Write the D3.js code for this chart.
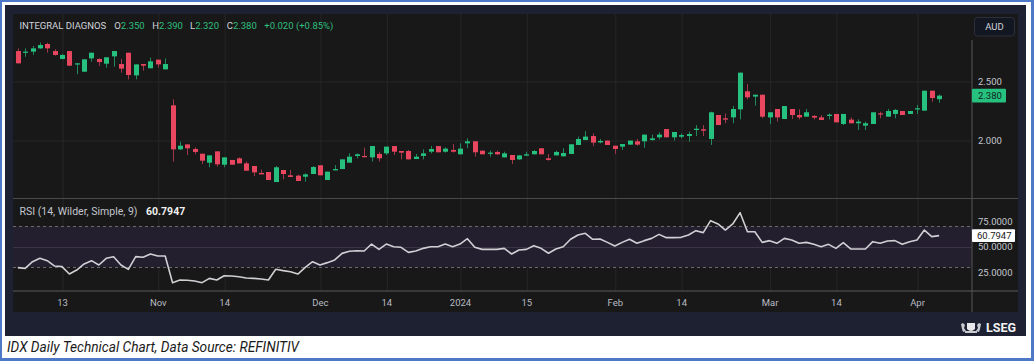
<!DOCTYPE html>
<html><head><meta charset="utf-8">
<script src="https://cdn.jsdelivr.net/npm/d3@7"></script>
<style>
html,body{margin:0;padding:0;background:#fff;}
svg{display:block;}
text{font-family:Roboto,"Open Sans",sans-serif;}
</style></head><body>
<svg id="c" width="1034" height="361"></svg>
<script>
// ---- data, one entry per trading day ----
const openP=[2.758,2.747,2.753,2.781,2.818,2.758,2.691,2.758,2.650,2.583,2.696,2.691,2.651,2.713,2.648,2.744,2.552,2.648,2.612,2.685,2.603,2.298,1.925,1.967,1.928,1.888,1.812,1.908,1.795,1.835,1.849,1.806,1.784,1.725,1.733,1.648,1.750,1.705,1.702,1.693,1.716,1.790,1.665,1.747,1.758,1.812,1.869,1.869,1.857,1.886,1.891,1.953,1.911,1.911,1.843,1.869,1.905,1.953,1.905,1.920,1.883,1.976,1.993,1.914,1.888,1.903,1.857,1.877,1.840,1.872,1.883,1.934,1.849,1.874,1.866,1.886,1.962,2.004,2.038,1.984,1.999,1.956,1.948,1.965,1.993,1.993,2.004,2.027,2.097,2.027,2.032,2.038,2.089,2.095,2.013,2.216,2.188,2.196,2.264,2.417,2.372,2.388,2.196,2.267,2.182,2.267,2.216,2.202,2.208,2.196,2.208,2.225,2.140,2.177,2.146,2.126,2.140,2.230,2.202,2.225,2.250,2.225,2.264,2.253,2.422,2.350];
const highP=[2.781,2.781,2.801,2.829,2.829,2.773,2.733,2.758,2.654,2.688,2.744,2.696,2.705,2.758,2.691,2.744,2.645,2.648,2.702,2.685,2.696,2.349,1.990,1.967,1.942,1.888,1.874,1.908,1.857,1.835,1.857,1.821,1.784,1.753,1.733,1.784,1.750,1.750,1.710,1.722,1.784,1.790,1.736,1.792,1.840,1.891,1.891,1.939,1.953,1.905,1.948,1.953,1.911,1.920,1.886,1.925,1.953,1.953,1.942,1.970,1.976,2.018,1.993,1.914,1.914,1.914,1.905,1.877,1.874,1.905,1.920,1.934,1.886,1.914,1.934,1.968,2.033,2.080,2.061,2.013,1.999,1.956,1.970,1.999,2.013,2.050,2.050,2.069,2.097,2.072,2.060,2.075,2.131,2.131,2.244,2.216,2.230,2.292,2.575,2.479,2.388,2.388,2.239,2.267,2.292,2.267,2.264,2.267,2.216,2.216,2.230,2.225,2.225,2.196,2.179,2.160,2.239,2.244,2.267,2.267,2.250,2.250,2.301,2.422,2.422,2.390];
const lowP=[2.654,2.710,2.725,2.775,2.744,2.719,2.688,2.634,2.561,2.583,2.668,2.631,2.617,2.626,2.575,2.518,2.518,2.592,2.612,2.617,2.603,1.821,1.920,1.877,1.883,1.801,1.773,1.778,1.773,1.795,1.806,1.744,1.699,1.713,1.665,1.648,1.671,1.691,1.657,1.651,1.716,1.705,1.665,1.747,1.758,1.812,1.849,1.857,1.821,1.821,1.877,1.877,1.840,1.840,1.843,1.840,1.891,1.900,1.897,1.897,1.883,1.934,1.863,1.883,1.863,1.877,1.857,1.801,1.835,1.869,1.883,1.883,1.829,1.874,1.866,1.886,1.962,2.004,1.953,1.976,1.962,1.886,1.920,1.962,1.956,1.939,1.999,2.010,2.027,1.999,2.018,1.990,2.038,2.038,1.962,2.131,2.146,2.146,2.179,2.349,2.295,2.188,2.140,2.160,2.182,2.182,2.179,2.202,2.179,2.174,2.179,2.154,2.131,2.146,2.089,2.089,2.140,2.188,2.202,2.188,2.216,2.225,2.225,2.253,2.329,2.320];
const closeP=[2.654,2.753,2.781,2.809,2.781,2.725,2.725,2.634,2.654,2.688,2.744,2.665,2.705,2.758,2.609,2.555,2.645,2.634,2.671,2.645,2.648,1.925,1.956,1.934,1.903,1.829,1.874,1.798,1.857,1.795,1.806,1.744,1.730,1.713,1.665,1.773,1.716,1.691,1.657,1.713,1.775,1.705,1.736,1.758,1.840,1.863,1.883,1.863,1.953,1.849,1.948,1.905,1.897,1.840,1.863,1.891,1.928,1.900,1.931,1.905,1.931,1.993,1.900,1.883,1.897,1.883,1.891,1.835,1.874,1.883,1.911,1.883,1.835,1.903,1.894,1.968,2.013,2.033,1.982,1.996,1.962,1.928,1.970,1.999,1.965,2.050,2.018,2.050,2.027,2.072,2.046,2.055,2.100,2.083,2.239,2.131,2.177,2.267,2.575,2.366,2.388,2.202,2.239,2.196,2.292,2.216,2.196,2.239,2.194,2.174,2.219,2.154,2.225,2.146,2.160,2.146,2.239,2.222,2.250,2.259,2.216,2.250,2.273,2.422,2.360,2.380];
const rsiV=[29.6,28.9,35.4,38.7,36.4,31.2,30.6,23.4,27.3,33.2,36.4,32.2,38.7,40.3,32.2,28.0,40.3,39.7,42.9,40.9,40.9,15.0,17.6,17.3,16.6,15.0,19.2,17.6,21.8,21.5,20.8,19.5,19.2,18.6,17.6,28.0,26.7,25.7,23.4,29.9,35.4,32.2,34.5,37.1,43.5,45.5,46.1,45.8,52.6,47.4,52.6,50.0,49.4,44.5,45.8,48.4,50.0,50.0,52.6,50.0,52.6,57.8,49.4,47.4,47.4,47.4,48.4,42.9,46.8,47.4,51.0,48.4,43.6,47.8,50.0,57.2,61.4,63.0,57.2,57.5,54.2,50.7,54.2,57.2,53.3,55.9,58.1,62.0,58.8,58.8,59.1,61.4,65.6,63.7,75.3,72.1,66.2,72.1,83.1,64.6,64.6,54.2,55.9,53.3,58.1,56.5,53.3,54.2,52.3,50.0,52.3,48.4,53.9,47.8,47.8,47.8,54.9,53.3,55.5,55.9,52.3,54.9,56.5,66.2,59.8,60.7947];
const tickIdx=[6,19,28,41,50,60,69,81,90,102,111,122];
const tickLabels=["13","Nov","14","Dec","14","2024","15","Feb","14","Mar","14","Apr"];
const priceTicks=[2.0,2.5];
const rsiTicks=[25,50,75];
const rsiBand=[30,70];
const title="INTEGRAL DIAGNOS";
const lastOHLC={o:"2.350",h:"2.390",l:"2.320",c:"2.380",chg:"+0.020 (+0.85%)"};
const rsiLabel="RSI (14, Wilder, Simple, 9)";
const caption="IDX Daily Technical Chart, Data Source: REFINITIV";

// ---- layout ----
const L=13, AX=972, R=1018, T=14, MB=198.5, RB=291, XB=312;
const UP="#26c07f", DN="#e9465f", UPW="#1f8a5c", DNW="#a3354a";
const svg=d3.select("#c");

svg.append("rect").attr("width",1034).attr("height",361).attr("fill","#4e79c6");
svg.append("rect").attr("x",2).attr("y",2).attr("width",1029).attr("height",356).attr("fill","#ffffff");
svg.append("rect").attr("x",5).attr("y",5).attr("width",1021).attr("height",331).attr("fill","#1d2131");
svg.append("rect").attr("x",L).attr("y",T).attr("width",R-L).attr("height",XB-T).attr("fill","#181818");

const x=d3.scaleLinear().domain([6,122]).range([62,917]);
const y=d3.scaleLinear().domain([2.0,2.5]).range([140.5,81.5]);
const yr=d3.scaleLinear().domain([25,75]).range([272.4,221]);

const defs=svg.append("defs");
defs.append("clipPath").attr("id","cm").append("rect").attr("x",L).attr("y",T).attr("width",AX-L).attr("height",MB-T);
defs.append("clipPath").attr("id","cr").append("rect").attr("x",L).attr("y",MB+1).attr("width",AX-L).attr("height",RB-MB-1);

// vertical grid
const vg=svg.append("g").attr("transform",`translate(0,${RB})`)
  .call(d3.axisBottom(x).tickValues(tickIdx).tickSize(-(RB-T)).tickFormat(""));
vg.select(".domain").remove();
vg.selectAll("line").attr("stroke","#262626").attr("stroke-width",1)
  .attr("transform","translate(0.5,0)");

// horizontal grid main
const hg=svg.append("g").attr("transform",`translate(${L},0)`)
  .call(d3.axisRight(y).tickValues(priceTicks).tickSize(AX-L).tickFormat(""));
hg.select(".domain").remove();
hg.selectAll("line").attr("stroke","#262626");

// RSI band
const rp=svg.append("g").attr("clip-path","url(#cr)");
rp.append("rect").attr("x",L).attr("width",AX-L)
  .attr("y",yr(rsiBand[1])).attr("height",yr(rsiBand[0])-yr(rsiBand[1]))
  .attr("fill","#241f2f");
rp.selectAll("line.band").data(rsiBand).join("line").attr("class","band")
  .attr("x1",L).attr("x2",AX).attr("y1",d=>Math.round(yr(d))+0.5).attr("y2",d=>Math.round(yr(d))+0.5)
  .attr("stroke","#6b6b6b").attr("stroke-dasharray","3,3");
rp.append("line").attr("x1",L).attr("x2",AX).attr("y1",Math.round(yr(50))+0.5).attr("y2",Math.round(yr(50))+0.5)
  .attr("stroke","#3a3446").attr("stroke-width",1);
rp.append("path").datum(rsiV)
  .attr("d",d3.line().x((d,i)=>x(i)).y(d=>yr(d)))
  .attr("fill","none").attr("stroke","#cfcfd4").attr("stroke-width",1.6).attr("stroke-linejoin","round");

// candles
const idx=d3.range(openP.length);
const cg=svg.append("g").attr("clip-path","url(#cm)");
cg.selectAll("line.w").data(idx).join("line").attr("class","w")
  .attr("x1",i=>Math.round(x(i))+0.5).attr("x2",i=>Math.round(x(i))+0.5)
  .attr("y1",i=>y(highP[i])).attr("y2",i=>y(lowP[i]))
  .attr("stroke",i=>closeP[i]>=openP[i]?UPW:DNW).attr("stroke-width",1);
cg.selectAll("rect.b").data(idx).join("rect").attr("class","b")
  .attr("x",i=>Math.round(x(i))-2).attr("width",5)
  .attr("y",i=>y(Math.max(openP[i],closeP[i])))
  .attr("height",i=>Math.max(1.2,Math.abs(y(openP[i])-y(closeP[i]))))
  .attr("fill",i=>closeP[i]>=openP[i]?UP:DN);

// dividers
svg.append("line").attr("x1",L).attr("x2",R).attr("y1",MB).attr("y2",MB).attr("stroke","#4a4a4a").attr("stroke-width",1.2);
svg.append("line").attr("x1",L).attr("x2",R).attr("y1",RB).attr("y2",RB).attr("stroke","#5a5a5a").attr("stroke-width",1.2);
svg.append("line").attr("x1",AX).attr("x2",AX).attr("y1",40).attr("y2",XB).attr("stroke","#555555").attr("stroke-width",1);

// axes
const styleAxis=(g,col)=>{g.select(".domain").remove();g.selectAll("text").attr("fill",col).attr("font-size","9.5px");};
const pa=svg.append("g").attr("transform",`translate(${AX},0)`)
  .call(d3.axisRight(y).tickValues(priceTicks).tickSize(0).tickPadding(6).tickFormat(d3.format(".3f")));
styleAxis(pa,"#c3c6ce");
const ra=svg.append("g").attr("transform",`translate(${AX},0)`)
  .call(d3.axisRight(yr).tickValues(rsiTicks).tickSize(0).tickPadding(6).tickFormat(d3.format(".4f")));
styleAxis(ra,"#c3c6ce");
const xa=svg.append("g").attr("transform",`translate(0,${RB})`)
  .call(d3.axisBottom(x).tickValues(tickIdx).tickSize(0).tickPadding(8).tickFormat((d,i)=>tickLabels[i]));
styleAxis(xa,"#b8bbc3");

// last price tag
const lastC=closeP[closeP.length-1];
svg.append("rect").attr("x",AX).attr("y",y(lastC)-6.8).attr("width",34).attr("height",13.6).attr("fill",UP).attr("rx",1);
svg.append("text").attr("x",AX+6).attr("y",y(lastC)).attr("dy","0.35em").attr("font-size","9.5px").attr("fill","#10261b").text(d3.format(".3f")(lastC));
// RSI tag
const lastR=rsiV[rsiV.length-1];
svg.append("rect").attr("x",AX).attr("y",yr(lastR)-6.3).attr("width",43).attr("height",12.6).attr("fill","#ffffff").attr("rx",1);
svg.append("text").attr("x",AX+5).attr("y",yr(lastR)).attr("dy","0.35em").attr("font-size","9.5px").attr("fill","#1a1a1a").text(d3.format(".4f")(lastR));

// AUD box
svg.append("rect").attr("x",974.5).attr("y",17.5).attr("width",40).attr("height",18.5).attr("rx",3).attr("fill","#131722").attr("stroke","#2c303b");
svg.append("text").attr("x",994.5).attr("y",27).attr("dy","0.35em").attr("text-anchor","middle").attr("font-size","9.5px").attr("fill","#d1d4dc").text("AUD");

// header
const GR="#2fbf7f", TX="#d1d4dc";
const ht=svg.append("text").attr("y",26).attr("dy","0.35em").attr("font-size","9.5px");
ht.append("tspan").attr("x",19.5).attr("fill",TX).text(title);
[["O",lastOHLC.o,114.3],["H",lastOHLC.h,152.3],["L",lastOHLC.l,190],["C",lastOHLC.c,226.7]].forEach(([k,v,px])=>{
  ht.append("tspan").attr("x",px).attr("fill",TX).text(k);
  ht.append("tspan").attr("fill",GR).text(v);
});
ht.append("tspan").attr("x",264.3).attr("fill",GR).text(lastOHLC.chg);

// RSI label
const rl=svg.append("text").attr("y",211.5).attr("dy","0.35em").attr("font-size","10.5px");
rl.append("tspan").attr("x",19.5).attr("fill","#c3c6ce").text(rsiLabel);
rl.append("tspan").attr("x",146).attr("fill","#f0f0f0").attr("font-weight","bold").text(d3.format(".4f")(lastR));

// LSEG logo
const lg=svg.append("g").attr("transform","translate(960,322)");
lg.append("path").attr("d","M7,1 h8 v6 q-4,4 -8,0 z").attr("fill","#e8e8ea");
lg.append("path").attr("d","M1,2 l2,-1 l2,2 l-1,3 l2,3 l-3,1 l-1,-3 z").attr("fill","#c9cbd1");
lg.append("path").attr("d","M21,2 l-2,-1 l-2,2 l1,3 l-2,3 l3,1 l1,-3 z").attr("fill","#c9cbd1");
lg.append("rect").attr("x",5).attr("y",9).attr("width",12).attr("height",2).attr("fill","#c9cbd1");
svg.append("text").attr("x",986).attr("y",332).attr("font-size","12.5px").attr("font-weight","bold").attr("fill","#f2f2f2").attr("font-family","'Open Sans',Roboto,sans-serif").text("LSEG");

// caption
svg.append("text").attr("x",7).attr("y",352).attr("font-size","13.7px").attr("font-style","italic")
  .attr("font-family","'Liberation Sans',Arial,sans-serif").attr("fill","#1a1a1a").text(caption);
</script>
</body></html>
